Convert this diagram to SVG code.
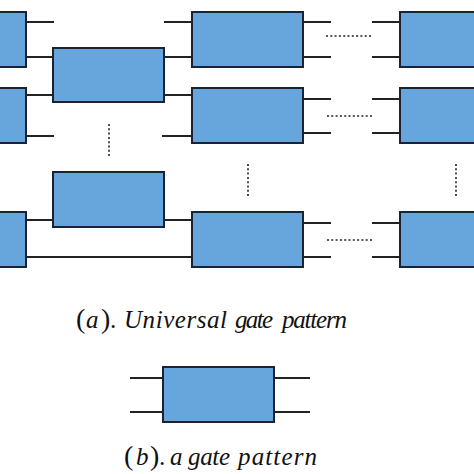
<svg xmlns="http://www.w3.org/2000/svg" width="474" height="474" viewBox="0 0 474 474">
<style>
.gate{fill:#66a6dc;stroke:#1c2230;stroke-width:2}
.w{stroke:#222;stroke-width:2;fill:none}
.dot{stroke:#222;stroke-width:1.6;stroke-dasharray:2 2.3;fill:none}
.cap{font-family:"Liberation Serif","Times New Roman",serif;font-size:25px;fill:#111}
.it{font-style:italic}
.par{font-size:28px}
</style>
<rect width="474" height="474" fill="#fff"/>
<g id="connectors">
<path class="w" d="M26 22H54M26 57H53M164 22H192M164 57H192M303 22H331M303 57H331M372 22H400M372 57H400"/>
<path class="w" d="M26 95H53M26 136H54M164 95H192M162 136H192M303 99H331M303 133H331M372 99H400M372 133H400"/>
<path class="w" d="M26 220H53M164 220H192M26 257H192M303 223H331M303 257H331M372 223H400M372 257H400"/>
<path class="dot" d="M326 36H372M327 116H373M327 240H373"/>
<path class="dot" d="M109 124V158M248 164V198M456 164V198"/>
<path class="w" d="M130 378H163M130 412H163M274 378H310M274 412H310"/>
</g>
<g id="g-c1r1"><rect class="gate" x="-10" y="12" width="36" height="55"/></g>
<g id="g-c1r2"><rect class="gate" x="-10" y="88" width="36" height="55"/></g>
<g id="g-c1r3"><rect class="gate" x="-10" y="212" width="36" height="55"/></g>
<g id="g-m1"><rect class="gate" x="53" y="48" width="111" height="54"/></g>
<g id="g-m2"><rect class="gate" x="53" y="172" width="111" height="55"/></g>
<g id="g-c2r1"><rect class="gate" x="192" y="12" width="111" height="55"/></g>
<g id="g-c2r2"><rect class="gate" x="192" y="88" width="111" height="55"/></g>
<g id="g-c2r3"><rect class="gate" x="192" y="212" width="111" height="55"/></g>
<g id="g-c3r1"><rect class="gate" x="400" y="12" width="100" height="55"/></g>
<g id="g-c3r2"><rect class="gate" x="400" y="88" width="100" height="55"/></g>
<g id="g-c3r3"><rect class="gate" x="400" y="212" width="100" height="55"/></g>
<g id="gate-b"><rect class="gate" x="163" y="367" width="111" height="55"/></g>
<text class="cap" y="328"><tspan class="par" x="76">(</tspan><tspan class="it" x="86">a</tspan><tspan class="par" x="101">)</tspan><tspan x="110">.</tspan><tspan class="it" x="124" textLength="103" lengthAdjust="spacing">Universal</tspan><tspan class="it" x="235" textLength="38" lengthAdjust="spacing">gate</tspan><tspan class="it" x="282" textLength="65" lengthAdjust="spacing">pattern</tspan></text>
<text class="cap" y="465"><tspan class="par" x="124">(</tspan><tspan class="it" x="136">b</tspan><tspan class="par" x="150">)</tspan><tspan x="159">.</tspan><tspan class="it" x="170">a</tspan><tspan class="it" x="188" textLength="42" lengthAdjust="spacing">gate</tspan><tspan class="it" x="238" textLength="79" lengthAdjust="spacing">pattern</tspan></text>
</svg>
